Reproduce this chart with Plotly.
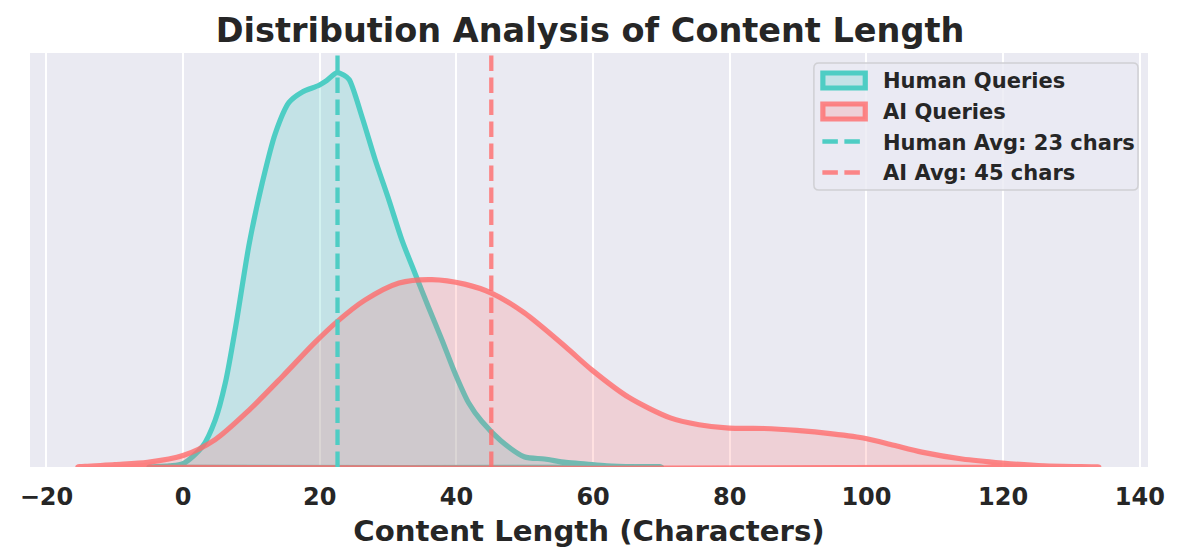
import plotly.graph_objects as go

# ---- data ----
human_x = [-5, -2, 0, 2.85, 4.7, 6.2, 7.7, 9.7, 11.6, 13.5, 15.5, 17.4, 19.9, 21.0, 22.5,
           23.5, 24.3, 26.2, 28.1, 30.1, 32.0, 33.9, 35.9, 37.9, 39.8, 41.8, 43.7, 46.5,
           49.9, 52.9, 56, 59, 62, 66, 70]
human_y = [0, 0.0001, 0.0003, 0.0018, 0.0041, 0.0074, 0.0123, 0.0196, 0.0249, 0.0292,
           0.0319, 0.0328, 0.0334, 0.0338, 0.0345, 0.0343, 0.0339, 0.0306, 0.0269, 0.0234,
           0.0199, 0.0170, 0.0140, 0.0111, 0.0082, 0.0056, 0.0040, 0.0023, 0.0009, 0.0007,
           0.0004, 0.00025, 0.0001, 0.00002, 0]

ai_x = [-15.4, -10, -5.2, 0, 4.7, 9.7, 14.5, 19.3, 22.5, 26.6, 31.6, 36.4, 41.2, 45.2,
        49.9, 56, 59.8, 65.2, 71.3, 75.5, 79.9, 85, 89.8, 95, 99.9, 104, 108.1, 114,
        119.9, 126, 134]
ai_y = [0, 0.0002, 0.0004, 0.0010, 0.0024, 0.0050, 0.0079, 0.0109, 0.0127, 0.0146,
        0.0161, 0.0164, 0.0160, 0.0152, 0.0135, 0.0105, 0.0085, 0.0061, 0.0043, 0.0037,
        0.0034, 0.00337, 0.0032, 0.0029, 0.0025, 0.0019, 0.0013, 0.0007, 0.00035,
        0.0001, 0]

human_mean = 22.6
ai_mean = 45.1
series_names = ["Human Queries", "AI Queries"]
mean_labels = ["Human Avg: 23 chars", "AI Avg: 45 chars"]
x_ticks = [-20, 0, 20, 40, 60, 80, 100, 120, 140]

# ---- styling ----
TEAL = "#4ECDC4"
RED_LINE = "rgba(255,107,107,0.8)"
TEAL_FILL = "rgba(78,205,196,0.25)"
RED_FILL = "rgba(255,107,107,0.2)"
TEXT = "#262626"
FONT = "DejaVu Sans"
DASH = "15.5px,6.5px"
y_top = max(human_y) * 1.05

# page offset (body margin) compensation; plot area in page px: x 27..1148, y 53..467
OFF = 8
W, H = 1180 - OFF, 559 - OFF
PL, PR, PT, PB = 27, 1148, 53, 467


def px(xpix):
    return (xpix - PL) / (PR - PL)


def py(ypix):
    return (PB - ypix) / (PB - PT)


fig = go.Figure()


def closed(xs, ys):
    return list(xs) + [xs[0]], list(ys) + [0]


hx, hy = closed(human_x, human_y)
fig.add_trace(go.Scatter(x=hx, y=hy, mode="lines", fill="toself", fillcolor=TEAL_FILL,
                         line=dict(color=TEAL, width=5.2, shape="spline", smoothing=0.8),
                         name=series_names[0]))
ax_, ay_ = closed(ai_x, ai_y)
fig.add_trace(go.Scatter(x=ax_, y=ay_, mode="lines", fill="toself", fillcolor=RED_FILL,
                         line=dict(color=RED_LINE, width=5.2, shape="spline", smoothing=0.8),
                         name=series_names[1]))
fig.add_trace(go.Scatter(x=[human_mean, human_mean], y=[0, y_top], mode="lines",
                         line=dict(color=TEAL, width=4.3, dash=DASH),
                         name=mean_labels[0]))
fig.add_trace(go.Scatter(x=[ai_mean, ai_mean], y=[0, y_top], mode="lines",
                         line=dict(color=RED_LINE, width=4.3, dash=DASH),
                         name=mean_labels[1]))

# ---- custom legend (matplotlib-like) ----
shapes = []
L, R, T, B = px(813), px(1138), py(63), py(190)
rx, ry = 5 / (PR - PL), 5 / (PB - PT)
path = (f"M {L+rx},{B} L {R-rx},{B} Q {R},{B} {R},{B+ry} L {R},{T-ry} Q {R},{T} {R-rx},{T} "
        f"L {L+rx},{T} Q {L},{T} {L},{T-ry} L {L},{B+ry} Q {L},{B} {L+rx},{B} Z")
shapes.append(dict(type="path", xref="paper", yref="paper", path=path,
                   fillcolor="rgba(234,234,242,0.8)", line=dict(color="#d0d0d4", width=1.5)))
patch_specs = [(80.5, TEAL, TEAL_FILL), (111.5, RED_LINE, RED_FILL)]
for yc, lc, fc in patch_specs:
    shapes.append(dict(type="rect", xref="paper", yref="paper",
                       x0=px(822), x1=px(864.5), y0=py(yc + 7.5), y1=py(yc - 7.5),
                       fillcolor=fc, line=dict(color=lc, width=5.2)))
line_specs = [(141.5, TEAL), (172.5, RED_LINE)]
for yc, lc in line_specs:
    shapes.append(dict(type="line", xref="paper", yref="paper",
                       x0=px(821.5), x1=px(861), y0=py(yc), y1=py(yc),
                       line=dict(color=lc, width=4.3, dash=DASH)))

annotations = []
labels = series_names + mean_labels
label_y = [81, 112, 142.5, 173]
for lab, yc in zip(labels, label_y):
    annotations.append(dict(text=f"<b>{lab}</b>", xref="paper", yref="paper",
                            x=px(880), y=py(yc), xanchor="left", yanchor="middle",
                            showarrow=False,
                            font=dict(size=21, family=FONT, color=TEXT)))

fig.update_layout(
    width=W, height=H,
    margin=dict(l=PL - OFF, r=W + OFF - PR, t=PT - OFF, b=H + OFF - PB),
    paper_bgcolor="white",
    plot_bgcolor="#EAEAF2",
    font=dict(family=FONT, color=TEXT),
    title=dict(text="<b>Distribution Analysis of Content Length</b>",
               x=(590 - OFF) / W, xref="container", xanchor="center",
               y=1 - (30 - OFF) / H, yref="container", yanchor="middle",
               font=dict(size=33.5, family=FONT, color=TEXT)),
    showlegend=False,
    shapes=shapes,
    annotations=annotations,
)

fig.update_xaxes(
    range=[-22.4, 141.2],
    tickmode="array", tickvals=x_ticks,
    ticktext=[("\u2212" + str(-t)) if t < 0 else str(t) for t in x_ticks],
    tickfont=dict(size=24, family=FONT, color=TEXT, weight="bold"),
    showgrid=True, gridcolor="white", gridwidth=1.7,
    zeroline=False, showline=False,
    ticks="outside", ticklen=8, tickcolor="rgba(0,0,0,0)",
    title=dict(text="<b>Content Length (Characters)</b>",
               font=dict(size=29.2, family=FONT, color=TEXT), standoff=10),
)
fig.update_yaxes(range=[0, y_top], showticklabels=False, showgrid=False,
                 zeroline=False, showline=False, ticks="")

fig.write_html("out.html")
